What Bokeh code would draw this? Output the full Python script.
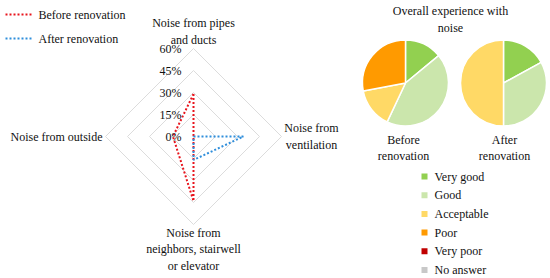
import math
from bokeh.plotting import figure
from bokeh.layouts import row
from bokeh.models import Range1d, ColumnDataSource
from bokeh.embed import file_html
from bokeh.resources import INLINE
from bokeh.core.properties import value

# ---------------- data ----------------
radar_categories = ["Noise from pipes\nand ducts", "Noise from\nventilation",
                    "Noise from\nneighbors, stairwell\nor elevator", "Noise from outside"]
before_values = [29, 0, 44, 14]
after_values = [0, 34, 16, 0]
radar_ticks = [0, 15, 30, 45, 60]
radar_tick_labels = ["0%", "15%", "30%", "45%", "60%"]
series_names = ["Before renovation", "After renovation"]
series_colors = ["#E8141C", "#2F8EDB"]

pie_title = "Overall experience with\nnoise"
pie_categories = ["Very good", "Good", "Acceptable", "Poor", "Very poor", "No answer"]
pie_colors = ["#92D050", "#CBE6AC", "#FFD966", "#FF9A00", "#C00000", "#C8C8C8"]
before_pie = [14, 43, 15, 28, 0, 0]
after_pie = [17, 33, 50, 0, 0, 0]
pie_labels = ["Before\nrenovation", "After\nrenovation"]

FONT = value("Liberation Serif")
FS = "12px"
TXT = "#111111"

# ---------------- radar ----------------
S = 88 / 60.0          # px per percent
CX, CY = 193, 136      # page coords of radar centre
W1, H = 352, 278


def rx(px):
    return (px - CX) / S


def ry(py):
    return (CY - py) / S


r = figure(width=W1, height=H, x_range=Range1d(rx(0), rx(W1)),
           y_range=Range1d(ry(H), ry(0)), x_axis_type=None, y_axis_type=None,
           output_backend="svg", toolbar_location=None, min_border=0)
r.grid.visible = False
r.outline_line_color = None

n = len(radar_categories)
angles = [math.pi / 2 - i * 2 * math.pi / n for i in range(n)]

ring_xs, ring_ys = [], []
for t in radar_ticks[1:]:
    ring_xs.append([t * math.cos(a) for a in angles] + [t * math.cos(angles[0])])
    ring_ys.append([t * math.sin(a) for a in angles] + [t * math.sin(angles[0])])
r.multi_line(ring_xs, ring_ys, line_color="#DCDCDC", line_width=1)

for vals, col in zip([before_values, after_values], series_colors):
    xs = [v * math.cos(a) for v, a in zip(vals, angles)]
    ys = [v * math.sin(a) for v, a in zip(vals, angles)]
    r.line(xs + xs[:1], ys + ys[:1], line_color=col, line_width=2, line_dash="2 2")

r.text(x=[rx(181)] * len(radar_ticks), y=radar_ticks, text=radar_tick_labels,
       text_align="right", text_baseline="middle", text_font=FONT,
       text_font_size=FS, text_color=TXT)

label_x = [rx(193), rx(311), rx(193), rx(56)]
label_y = [ry(31), ry(136), ry(249), ry(136)]
r.text(x=label_x, y=label_y, text=radar_categories, text_align="center",
       text_baseline="middle", text_font=FONT, text_font_size=FS,
       text_color=TXT, text_line_height=1.2)

# legend for radar
for i, (name, col) in enumerate(zip(series_names, series_colors)):
    yy = ry(14 + 24 * i)
    r.line([rx(5), rx(33)], [yy, yy], line_color=col, line_width=2, line_dash="2 2")
    r.text(x=[rx(38)], y=[yy], text=[name], text_align="left", text_baseline="middle",
           text_font=FONT, text_font_size=FS, text_color=TXT)

# ---------------- pies ----------------
W2 = 550 - W1
p = figure(width=W2, height=H, x_range=Range1d(W1, W1 + W2),
           y_range=Range1d(0, H), x_axis_type=None, y_axis_type=None,
           output_backend="svg", toolbar_location=None, min_border=0)
p.grid.visible = False
p.outline_line_color = None


def Y(py):
    return H - py


centres = [(405, 82.5), (503, 82.5)]
R = 43
for (pcx, pcy), vals in zip(centres, [before_pie, after_pie]):
    tot = float(sum(vals))
    starts, ends, cols = [], [], []
    cum = 0.0
    for v, c in zip(vals, pie_colors):
        if v <= 0:
            continue
        starts.append(math.pi / 2 - 2 * math.pi * cum / tot)
        cum += v
        ends.append(math.pi / 2 - 2 * math.pi * cum / tot)
        cols.append(c)
    src = ColumnDataSource(dict(s=starts, e=ends, c=cols))
    p.wedge(x=pcx, y=Y(pcy), radius=R, start_angle="s", end_angle="e",
            direction="clock", fill_color="c", line_color="white",
            line_width=1.5, source=src)

p.text(x=[450], y=[Y(19)], text=[pie_title], text_align="center",
       text_baseline="middle", text_font=FONT, text_font_size=FS,
       text_color=TXT, text_line_height=1.2)
p.text(x=[403, 504], y=[Y(147.5), Y(147.5)], text=pie_labels, text_align="center",
       text_baseline="middle", text_font=FONT, text_font_size=FS,
       text_color=TXT, text_line_height=1.2)

leg_y = [Y(176 + 18.7 * i) for i in range(len(pie_categories))]
p.scatter(x=[424] * len(pie_categories), y=leg_y, marker="square", size=6,
          fill_color=pie_colors, line_color=None)
p.text(x=[434] * len(pie_categories), y=leg_y, text=pie_categories,
       text_align="left", text_baseline="middle", text_font=FONT,
       text_font_size=FS, text_color=TXT)

layout = row(r, p, spacing=0)
open("out.html", "w").write(file_html(layout, INLINE))
